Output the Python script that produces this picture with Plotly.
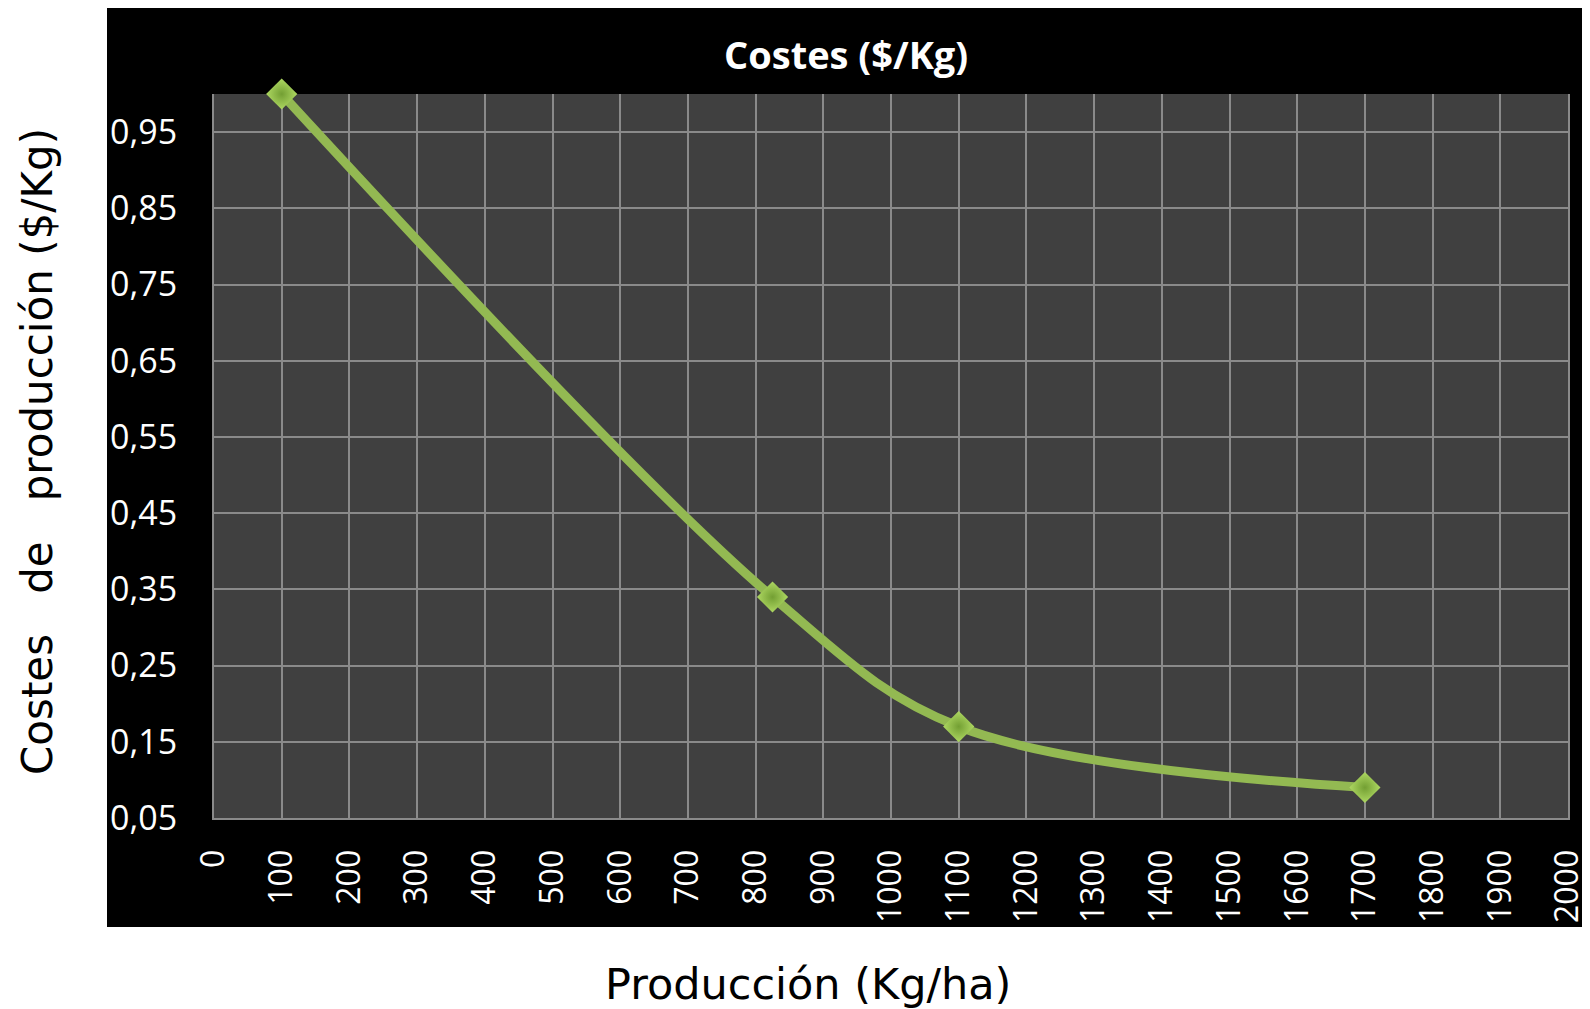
import plotly.graph_objects as go

# Data
produccion = [100, 825, 1100, 1700]
costes = [1.00, 0.34, 0.17, 0.09]
x_ticks = list(range(0, 2001, 100))
y_ticks = [0.05, 0.15, 0.25, 0.35, 0.45, 0.55, 0.65, 0.75, 0.85, 0.95]

OFF = 8  # page body margin
W, H = 1590 - OFF, 1009 - OFF
# target plot area in page pixels
PL, PR, PT, PB = 214, 1568, 94, 818
L, T = PL - OFF, PT - OFF
R = W - (PR - OFF)
B = H - (PB - OFF)
pw, ph = PR - PL, PB - PT

def px(xp):
    return (xp - PL) / pw

def py(yp):
    return (PB - yp) / ph

fig = go.Figure()
fig.add_trace(go.Scatter(
    x=produccion, y=costes, mode="lines+markers",
    line=dict(color="#93B952", width=9, shape="spline", smoothing=1.0),
    marker=dict(symbol="diamond", size=24, color="#AED862",
                gradient=dict(type="radial", color="#739F33"),
                line=dict(width=0)),
    cliponaxis=False, showlegend=False,
))

grid = "#8A8A8A"
fig.update_layout(
    width=W, height=H,
    margin=dict(l=L, r=R, t=T, b=B, autoexpand=False),
    paper_bgcolor="white", plot_bgcolor="#404040",
    separators=", ",
    font=dict(family="Open Sans", color="white"),
    xaxis=dict(range=[0, 2000], tickvals=x_ticks, ticktext=[str(v) for v in x_ticks],
               tickangle=-90, showgrid=True, gridcolor=grid, gridwidth=2,
               showline=True, linecolor=grid, linewidth=2, zeroline=False,
               ticks="", ticklabelstandoff=17,
               tickfont=dict(size=32, color="white", family="Open Sans")),
    yaxis=dict(range=[0.05, 1.0], tickvals=y_ticks, tickformat=".2f",
               showgrid=True, gridcolor=grid, gridwidth=2,
               showline=True, mirror=True, linecolor=grid, linewidth=2, zeroline=False,
               ticks="", ticklabelstandoff=28,
               tickfont=dict(size=34, color="white", family="Open Sans")),
    shapes=[
        dict(type="rect", xref="paper", yref="paper", layer="below",
             x0=px(107), x1=px(1582), y0=py(927), y1=py(4),
             fillcolor="black", line=dict(width=0)),
        dict(type="rect", xref="paper", yref="paper", layer="below",
             x0=0, x1=1, y0=0, y1=1, fillcolor="#404040", line=dict(width=0)),
    ],
    annotations=[
        dict(text="<b>Costes ($/Kg)</b>", xref="paper", yref="paper",
             x=px(846), y=py(54), xanchor="center", yanchor="middle", showarrow=False,
             font=dict(size=38, color="white", family="Open Sans")),
        dict(text="Producción (Kg/ha)", xref="paper", yref="paper",
             x=px(808), y=py(984), xanchor="center", yanchor="middle", showarrow=False,
             font=dict(size=43, color="black", family="DejaVu Sans")),
        dict(text="Costes\u00a0\u00a0\u00a0de\u00a0\u00a0\u00a0producción ($/Kg)", xref="paper", yref="paper",
             x=px(37), y=py(452), xanchor="center", yanchor="middle", showarrow=False,
             textangle=-90,
             font=dict(size=42, color="black", family="DejaVu Sans")),
    ],
)

fig.write_html("out.html")
